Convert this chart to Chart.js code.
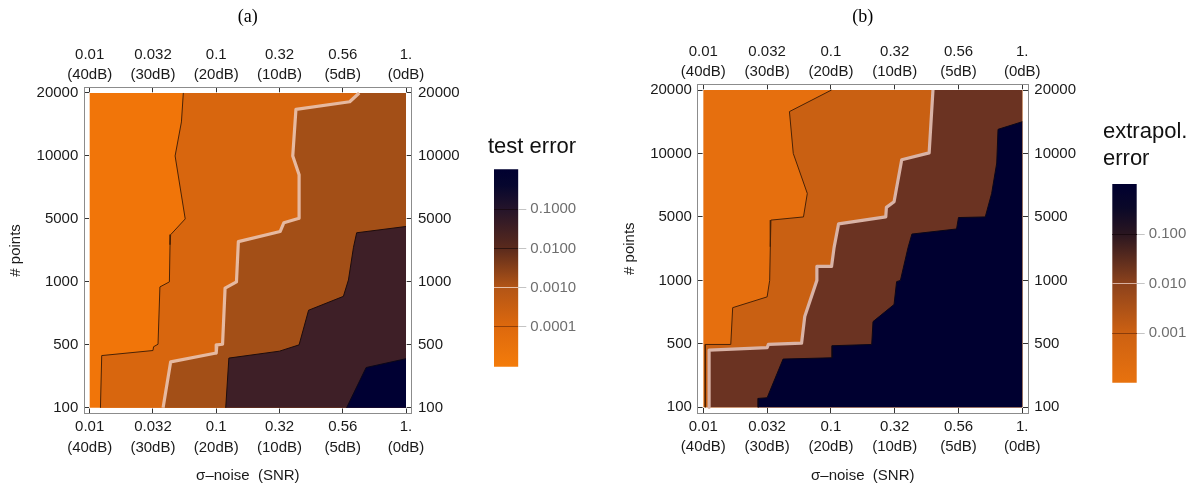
<!DOCTYPE html>
<html><head><meta charset="utf-8">
<script src="https://cdn.jsdelivr.net/npm/chart.js@4.4.1/dist/chart.umd.min.js"></script>
<style>
html,body{margin:0;padding:0;background:#fff;}
#wrap{position:relative;width:1199px;height:493px;overflow:hidden;background:#fff;}
canvas{position:absolute;}
</style></head><body>
<div id="wrap">
<canvas id="cA" width="470" height="493" style="left:0px;top:0px"></canvas>
<canvas id="cbA" width="110" height="290" style="left:488px;top:100px"></canvas>
<canvas id="cB" width="470" height="493" style="left:615px;top:0px"></canvas>
<canvas id="cbB" width="96" height="310" style="left:1103px;top:90px"></canvas>
</div>
<script>
// ---------- tick labels ----------
const noiseLabels = ['0.01','0.032','0.1','0.32','0.56','1.'];
const snrLabels = ['(40dB)','(30dB)','(20dB)','(10dB)','(5dB)','(0dB)'];
const pointLabels = ['100','500','1000','5000','10000','20000'];

// ---------- panel (a): test error contour boundaries (grid-index units) ----------
const a1X = [1.48,1.45,1.35,1.51,1.28,1.27,1.26,1.11,1.08,1.01,1.00,0.19,0.17];
const a1Y = [5.00,4.54,4.00,3.00,2.75,2.59,2.00,1.92,1.01,0.97,0.91,0.83,0.00];
const a2X = [4.26,4.11,3.26,3.21,3.31,3.31,3.07,3.01,2.35,2.32,2.14,2.10,2.01,2.00,1.28,1.16];
const a2Y = [5.00,4.86,4.74,4.00,3.70,3.01,2.94,2.80,2.64,2.00,1.90,1.01,1.00,0.87,0.73,0.00];
const a3X = [5.00,4.22,4.17,4.09,4.01,3.46,3.31,3.00,2.20,2.15];
const a3Y = [2.88,2.78,2.55,2.03,1.77,1.55,1.00,0.90,0.79,0.00];
const a4X = [5.00,4.37,4.06];
const a4Y = [0.78,0.64,0.00];
const testErrTicks = [0.0001,0.001,0.01,0.1];
const testErrLabels = ['0.0001','0.0010','0.0100','0.1000'];

// ---------- panel (b): extrapolation error contour boundaries ----------
const b1X = [2.01,1.35,1.41,1.63,1.57,1.06,1.05,1.04,1.00,0.46,0.43,0.03,0.03];
const b1Y = [5.00,4.66,4.00,3.37,3.00,2.95,2.53,2.00,1.74,1.57,0.99,0.99,0.00];
const b2X = [3.60,3.54,3.11,2.99,2.87,2.86,2.12,2.05,2.01,1.78,1.78,1.59,1.54,1.02,1.00,0.09,0.09];
const b2Y = [5.00,4.01,3.90,3.24,3.15,3.00,2.89,2.52,2.22,2.22,2.00,1.43,1.01,0.99,0.94,0.90,0.00];
const b3X = [5.00,4.62,4.60,4.52,4.42,4.00,3.97,3.27,3.21,3.09,3.03,2.99,2.66,2.64,2.02,2.02,1.25,1.00,0.86,0.86];
const b3Y = [4.50,4.38,3.85,3.37,3.00,2.99,2.81,2.73,2.52,2.00,1.98,1.62,1.35,0.99,0.97,0.78,0.76,0.15,0.14,0.00];
const extrapTicks = [0.001,0.01,0.1];
const extrapLabels = ['0.001','0.010','0.100'];

// ---------- styles ----------
Chart.defaults.font.family = "'Liberation Sans', Arial, sans-serif";
const aColors = ['#f17509','#d8660e','#a34f17','#3e1f27','#000033'];
const bColors = ['#e66f0e','#c96012','#6b3322','#000030'];
const thinLine = '#4a2206';
const hiLine = '#e6b9a0';

const xMaxIdx = noiseLabels.length - 1;
const yMaxIdx = pointLabels.length - 1;
function pts(xs, ys) { return xs.map((x, i) => ({x: x, y: ys[i]})); }
function regionPoly(xs, ys) {
  const p = pts(xs, ys);
  p.push({x: xMaxIdx, y: 0});
  if (ys[0] === yMaxIdx) p.push({x: xMaxIdx, y: yMaxIdx});
  return p;
}
function fullRect() {
  return [{x:0,y:0},{x:xMaxIdx,y:0},{x:xMaxIdx,y:yMaxIdx},{x:0,y:yMaxIdx}];
}
function regionDS(data, color, order) {
  return {data: data, showLine: true, fill: 'shape', backgroundColor: color,
          borderWidth: 0, pointRadius: 0, order: order};
}
function lineDS(data, color, width, order) {
  return {data: data, showLine: true, fill: false, borderColor: color, borderWidth: width,
          borderJoinStyle: 'round', pointRadius: 0, order: order};
}

function mainChart(id, datasets, g, label) {
  const pad = 0.09;
  const ticksFor = (axis) => ({
    type: 'linear', position: axis.pos, min: -pad, max: xMaxIdx + pad, z: 1,
    afterBuildTicks: s => { s.ticks = noiseLabels.map((_, i) => ({value: i})); },
    afterFit: s => { if (axis.w !== undefined) s.width = axis.w; if (axis.h !== undefined) s.height = axis.h; },
    grid: {drawOnChartArea: false, drawTicks: true, tickLength: -5, tickColor: '#333', tickWidth: 1, z: 1},
    border: {display: true, color: '#8c8c8c', width: 1, z: 1},
    ticks: {autoSkip: false, maxRotation: 0, minRotation: 0, color: '#1a1a1a', padding: axis.p,
            font: {size: 15, lineHeight: 1.37},
            callback: axis.horiz ? (v => [noiseLabels[v], snrLabels[v]]) : (v => pointLabels[v])},
    title: axis.title || {display: false}
  });
  return new Chart(document.getElementById(id), {
    type: 'scatter',
    data: {datasets: datasets},
    options: {
      responsive: false, animation: false, events: [],
      layout: {padding: 0},
      plugins: {legend: {display: false}, tooltip: {enabled: false}, title: {display: false}},
      scales: {
        x: ticksFor({pos: 'bottom', h: g.bottomH, p: 8.4, horiz: true,
             title: {display: true, text: 'σ–noise  (SNR)', color: '#1a1a1a', font: {size: 15}, padding: {top: 0, bottom: 8}}}),
        x2: ticksFor({pos: 'top', h: g.topH, p: 7, horiz: true,
             title: {display: true, text: label, color: '#000', font: {family: "'Liberation Serif', 'Times New Roman', serif", size: 18}, padding: {top: 6.2, bottom: 0}}}),
        y: ticksFor({pos: 'left', w: g.leftW, p: 10.7, horiz: false,
             title: {display: true, text: '# points', color: '#1a1a1a', font: {size: 15}, padding: {top: g.yTitlePad, bottom: 0}}}),
        y2: ticksFor({pos: 'right', w: g.rightW, p: 11.3, horiz: false})
      }
    }
  });
}

function colorBar(id, title, titleLH, titlePad, lo, hi, tickVals, tickLabels, stops, lineColors, g) {
  return new Chart(document.getElementById(id), {
    type: 'bar',
    data: {labels: ['v'], datasets: [{
      data: [[lo, hi]], barPercentage: 1, categoryPercentage: 1,
      borderWidth: 0,
      backgroundColor: (c) => {
        const ca = c.chart.chartArea;
        if (!ca) return '#000';
        const gr = c.chart.ctx.createLinearGradient(0, ca.bottom, 0, ca.top);
        stops.forEach(s => gr.addColorStop(s[0], s[1]));
        return gr;
      }
    }]},
    options: {
      responsive: false, animation: false, events: [],
      layout: {padding: {left: 0, right: 0, top: 0, bottom: g.padB}},
      plugins: {legend: {display: false}, tooltip: {enabled: false},
        title: {display: true, text: title, align: 'start', color: '#111',
                font: {size: 22, weight: 'normal', lineHeight: titleLH}, padding: titlePad}},
      scales: {
        x: {type: 'category', display: false},
        yl: {type: 'linear', axis: 'y', position: 'left', min: 0, max: 1, display: true,
             afterFit: s => { s.width = g.leftW; },
             ticks: {display: false}, grid: {display: false}, border: {display: false}},
        y: {type: 'logarithmic', position: 'right', min: lo, max: hi, z: 1,
            afterBuildTicks: s => { s.ticks = tickVals.map(v => ({value: v})); },
            afterFit: s => { s.width = g.rightW; },
            grid: {z: 1, drawOnChartArea: true, drawTicks: true, tickLength: 8, tickColor: '#c4c4c4', lineWidth: 1,
                   color: (c) => lineColors[c.index] || '#000'},
            border: {display: false},
            ticks: {autoSkip: false, color: '#6e6e6e', padding: 4, font: {size: 15},
                    callback: (v, i) => tickLabels[i]}}
      }
    }
  });
}

// ---------- panel (a) ----------
mainChart('cA', [
  regionDS(fullRect(), aColors[0], 10),
  regionDS(regionPoly(a1X, a1Y), aColors[1], 9),
  regionDS(regionPoly(a2X, a2Y), aColors[2], 8),
  regionDS(regionPoly(a3X, a3Y), aColors[3], 7),
  regionDS(regionPoly(a4X, a4Y), aColors[4], 6),
  lineDS(pts(a1X, a1Y), thinLine, 1, 2),
  lineDS(pts(a3X, a3Y), '#1e0c0c', 1, 2),
  lineDS(pts(a4X, a4Y), '#0a0618', 1, 2),
  lineDS(pts(a2X, a2Y), hiLine, 3.2, 1)
], {leftW: 84, rightW: 58.3, topH: 87.3, bottomH: 79.5, yTitlePad: 6.7}, '(a)');

colorBar('cbA', 'test error', 1.2, {top: 33.5, bottom: 9.4}, 9.5e-6, 1.05,
  testErrTicks, testErrLabels,
  [[0, '#f47c0a'], [0.2, '#de690d'], [0.4, '#b35516'], [0.6, '#5a2a1c'], [0.8, '#24142a'], [0.92, '#06062e'], [1, '#000030']],
  ['#944008', '#e8c0a8', '#2e1410', '#1a0a15'],
  {leftW: 6, rightW: 79.7, padB: 23.3});

// ---------- panel (b) ----------
mainChart('cB', [
  regionDS(fullRect(), bColors[0], 10),
  regionDS(regionPoly(b1X, b1Y), bColors[1], 9),
  regionDS(regionPoly(b2X, b2Y), bColors[2], 8),
  regionDS(regionPoly(b3X, b3Y), bColors[3], 7),
  lineDS(pts(b1X, b1Y), thinLine, 1, 2),
  lineDS(pts(b3X, b3Y), '#0a0618', 1, 2),
  lineDS(pts(b2X, b2Y), '#d9b3a6', 3.2, 1)
], {leftW: 82.6, rightW: 57, topH: 84.3, bottomH: 80, yTitlePad: 6}, '(b)');

colorBar('cbB', ['extrapol.', 'error'], 1.255, {top: 27.9, bottom: 10.9}, 1.0e-4, 1.04,
  extrapTicks, extrapLabels,
  [[0, '#e8720e'], [0.249, '#cd6112'], [0.5, '#8c421c'], [0.747, '#2a1620'], [0.88, '#0a0828'], [1, '#000030']],
  ['#8a3c0a', '#d8b0a0', '#1a0a10'],
  {leftW: 9.3, rightW: 62.3, padB: 17.3});
</script>
</body></html>
